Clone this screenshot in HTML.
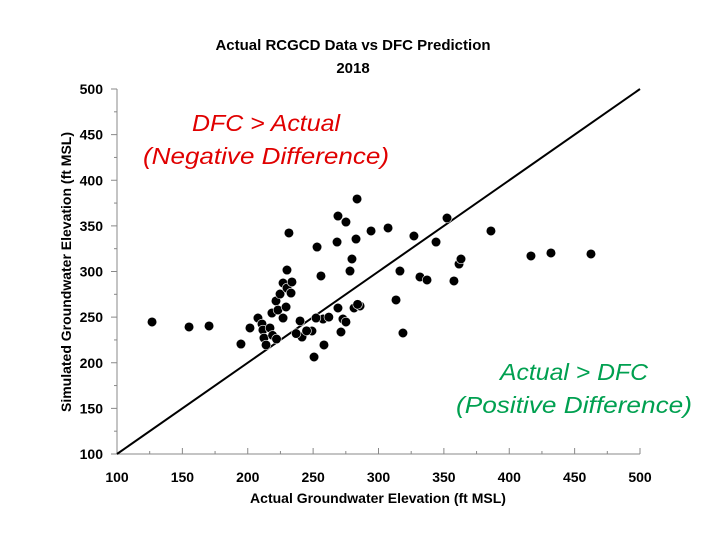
<!DOCTYPE html>
<html><head><meta charset="utf-8"><style>
html,body{margin:0;padding:0;background:#fff;}
svg text{font-family:"Liberation Sans",sans-serif;}
</style></head><body>
<svg id="chart" width="720" height="540">
<text x="353" y="50" font-size="15" font-weight="bold" text-anchor="middle">Actual RCGCD Data vs DFC Prediction</text>
<text x="353" y="73" font-size="15" font-weight="bold" text-anchor="middle">2018</text>
<text x="266" y="131" font-size="23" font-style="italic" font-weight="500" fill="#e00000" text-anchor="middle" textLength="148" lengthAdjust="spacingAndGlyphs">DFC &gt; Actual</text>
<text x="266" y="164" font-size="23" font-style="italic" font-weight="500" fill="#e00000" text-anchor="middle" textLength="246" lengthAdjust="spacingAndGlyphs">(Negative Difference)</text>
<text x="574" y="380" font-size="23" font-style="italic" font-weight="500" fill="#00a050" text-anchor="middle" textLength="148" lengthAdjust="spacingAndGlyphs">Actual &gt; DFC</text>
<text x="574" y="413" font-size="23" font-style="italic" font-weight="500" fill="#00a050" text-anchor="middle" textLength="236" lengthAdjust="spacingAndGlyphs">(Positive Difference)</text>
<text x="378" y="503" font-size="14" font-weight="bold" text-anchor="middle">Actual Groundwater Elevation (ft MSL)</text>
<text transform="translate(71,272) rotate(-90)" font-size="14" font-weight="bold" text-anchor="middle">Simulated Groundwater Elevation (ft MSL)</text>
<g id="axes"></g>
<g id="marks"></g>
</svg>
<script>
const xTicks=[100,150,200,250,300,350,400,450,500];
const yTicks=[100,150,200,250,300,350,400,450,500];
const actual=[126.8,155.1,170.4,194.8,201.7,207.8,210.9,211.6,212.4,214.0,217.0,218.5,221.6,223.1,224.7,227.0,230.0,227.0,229.3,230.0,233.1,233.8,231.5,240.0,241.5,249.1,253.0,256.0,257.6,252.2,250.7,258.3,269.0,268.3,269.0,271.3,272.8,275.1,275.1,278.2,279.7,281.3,282.8,283.6,285.9,294.3,307.3,313.4,316.4,318.7,327.1,331.7,337.1,344.0,352.4,357.7,361.6,363.1,386.0,416.6,431.9,462.5,219,222,237,245,262,284];
const simulated=[244.7,239.2,240.3,220.5,238.1,249.0,242.5,235.9,227.1,219.5,238.1,254.5,267.7,257.8,275.3,287.4,281.9,249.0,261.1,301.6,276.4,288.5,342.2,245.8,228.2,234.8,326.8,295.1,247.9,249.0,206.3,219.5,360.8,332.3,260.0,233.7,247.9,244.7,354.2,300.5,313.7,260.0,335.6,379.5,262.2,344.4,347.7,268.8,300.5,232.6,338.9,294.0,290.7,332.3,358.6,289.6,308.2,313.7,344.4,317.0,320.3,319.2,230,226,232,235,250,264];
const X0=117,X1=640,Y0=454,Y1=89;
const sx=v=>X0+(v-100)/400*(X1-X0);
const sy=v=>Y0-(v-100)/400*(Y0-Y1);
const NS='http://www.w3.org/2000/svg';
const axes=document.getElementById('axes'),marks=document.getElementById('marks');
function mk(tag,attrs,parent){const e=document.createElementNS(NS,tag);for(const k in attrs)e.setAttribute(k,attrs[k]);parent.appendChild(e);return e;}
let a=mk('line',{x1:X0,y1:Y0,x2:X0,y2:Y1,stroke:'#888','stroke-width':1},axes);


a=mk('line',{x1:X0,y1:Y0,x2:X1,y2:Y0,stroke:'#888','stroke-width':1},axes);


for(let i=0;i<yTicks.length;i++){
  const v=yTicks[i];
  mk('line',{x1:X0-6,x2:X0,y1:sy(v),y2:sy(v),stroke:'#888'},axes);
  if(i<yTicks.length-1){const m=(v+yTicks[i+1])/2;mk('line',{x1:X0-3,x2:X0,y1:sy(m),y2:sy(m),stroke:'#888'},axes);}
  const t=mk('text',{x:X0-14,y:sy(v)+5,'font-size':14,'font-weight':'bold','text-anchor':'end'},axes);
  t.textContent=v;
  
  
}
for(let i=0;i<xTicks.length;i++){
  const v=xTicks[i];
  mk('line',{x1:sx(v),x2:sx(v),y1:Y0,y2:Y0-6,stroke:'#888'},axes);
  if(i<xTicks.length-1){const m=(v+xTicks[i+1])/2;mk('line',{x1:sx(m),x2:sx(m),y1:Y0,y2:Y0-3,stroke:'#888'},axes);}
  const t=mk('text',{x:sx(v),y:Y0+28,'font-size':14,'font-weight':'bold','text-anchor':'middle'},axes);
  t.textContent=v;
  
  
}
const ln=mk('line',{x1:sx(100),y1:sy(100),x2:sx(500),y2:sy(500),stroke:'#000','stroke-width':2},marks);


for(let i=0;i<actual.length;i++){
  const c=mk('circle',{cx:sx(actual[i]),cy:sy(simulated[i]),r:4.8,fill:'#000',stroke:'#fff','stroke-width':0.6},marks);
  
  
}
</script>
</body></html>
